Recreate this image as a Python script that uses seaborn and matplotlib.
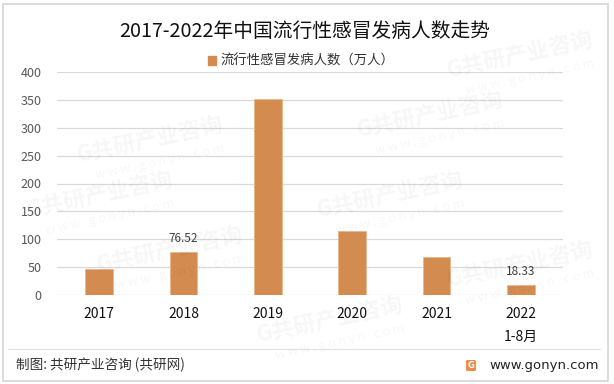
import matplotlib
matplotlib.use("Agg")
import matplotlib.pyplot as plt
import seaborn as sns
import pandas as pd
from matplotlib.patches import Rectangle, FancyBboxPatch
from matplotlib.lines import Line2D

# ---- data ----
categories = ["2017", "2018", "2019", "2020", "2021", "2022\n1-8月"]
values = [46.4, 76.52, 351.3, 114.6, 67.6, 18.33]
labeled = {"2018": "76.52", "2022\n1-8月": "18.33"}
yticks = [0, 50, 100, 150, 200, 250, 300, 350, 400]
title = "2017-2022年中国流行性感冒发病人数走势"
legend_label = "流行性感冒发病人数（万人）"
source = "制图: 共研产业咨询 (共研网)"
site = "www.gonyn.com"

sns.set_theme(style="white")
plt.rcParams["font.family"] = ["Noto Sans CJK SC", "DejaVu Sans"]

W, H = 614, 384
fig = plt.figure(figsize=(W / 100, H / 100), dpi=100)
fig.patch.set_facecolor("white")

# faint watermarks (drawn first, behind everything)
wm_pos = [(150, 140), (390, 195), (170, 250), (430, 115), (520, 265), (330, 320), (520, 55), (100, 195)]
for x, y in wm_pos:
    fig.text(x / W, 1 - y / H, "G共研产业咨询", fontsize=16, fontweight="bold",
             color="#000000", alpha=0.035, rotation=12, ha="center", va="center")
    fig.text((x + 10) / W, 1 - (y + 22) / H, "w w w . g o n y n . c o m", fontsize=9,
             color="#000000", alpha=0.035, rotation=12, ha="center", va="center")

ax = fig.add_axes([57 / W, (H - 295) / H, (563 - 57) / W, (295 - 72) / H])
ax.set_facecolor("none")

bar_color = "#D38B4F"
df = pd.DataFrame({"cat": categories, "val": values})
sns.barplot(data=df, x="cat", y="val", color=bar_color, width=0.33,
            saturation=1, ax=ax, zorder=3)
for p in ax.patches:
    p.set_edgecolor("#E9B78C")
    p.set_linewidth(0.6)

ax.set_ylim(0, 400)
ax.set_xlim(-0.5, len(categories) - 0.5)
ax.set_yticks(yticks)
ax.set_yticklabels([str(v) for v in yticks], fontsize=9, color="#595959")
ax.tick_params(axis="y", length=0, pad=11)
ax.tick_params(axis="x", length=0, pad=9, labelsize=10, labelcolor="#111111")
for lab in ax.get_xticklabels():
    lab.set_linespacing(1.75)
    lab.set_verticalalignment("top")
ax.set_xlabel("")
ax.set_ylabel("")
for s in ax.spines.values():
    s.set_visible(False)
ax.yaxis.grid(True, color="#D9D9D9", linewidth=0.9, zorder=0)
ax.xaxis.grid(False)

for i, (c, v) in enumerate(zip(categories, values)):
    if c in labeled:
        ax.annotate(labeled[c], (i, v), xytext=(0, 5), textcoords="offset points",
                    ha="center", va="bottom", fontsize=8.5, color="#404040")

# title and legend
fig.text(305 / W, 1 - 31 / H, title, ha="center", va="center", fontsize=14.2, color="#111111")
handle = Rectangle((0, 0), 1, 1, color=bar_color)
fig.legend([handle], [legend_label], loc="center", bbox_to_anchor=(301 / W, 1 - 61 / H),
           frameon=False, fontsize=9.6, handlelength=0.65, handleheight=0.65,
           handletextpad=0.3, labelcolor="#333333")

# footer
fig.add_artist(Line2D([8 / W, 600 / W], [1 - 349 / H, 1 - 349 / H], color="#E3E3E3",
                      linewidth=0.9, transform=fig.transFigure))
fig.text(16 / W, 1 - 365 / H, source, ha="left", va="center", fontsize=9.8, color="#333333")
fig.text(599 / W, 1 - 365 / H, site, ha="right", va="center", fontsize=9.5, color="#222222",
         family=["DejaVu Sans"])
fig.add_artist(FancyBboxPatch((466 / W, 1 - 371 / H), 10 / W, 11 / H,
                              boxstyle="round,pad=0,rounding_size=0.003",
                              facecolor="#F08A4B", edgecolor="none", transform=fig.transFigure))
fig.text(471 / W, 1 - 365.5 / H, "G", ha="center", va="center", fontsize=6, color="white",
         fontweight="bold", family=["DejaVu Sans"])

# outer border
fig.add_artist(Rectangle((3 / W, 3 / H), 605 / W, 377 / H, fill=False,
                         edgecolor="#D6D6D6", linewidth=1.2, transform=fig.transFigure))

fig.savefig("out.png", dpi=100, facecolor="white")
